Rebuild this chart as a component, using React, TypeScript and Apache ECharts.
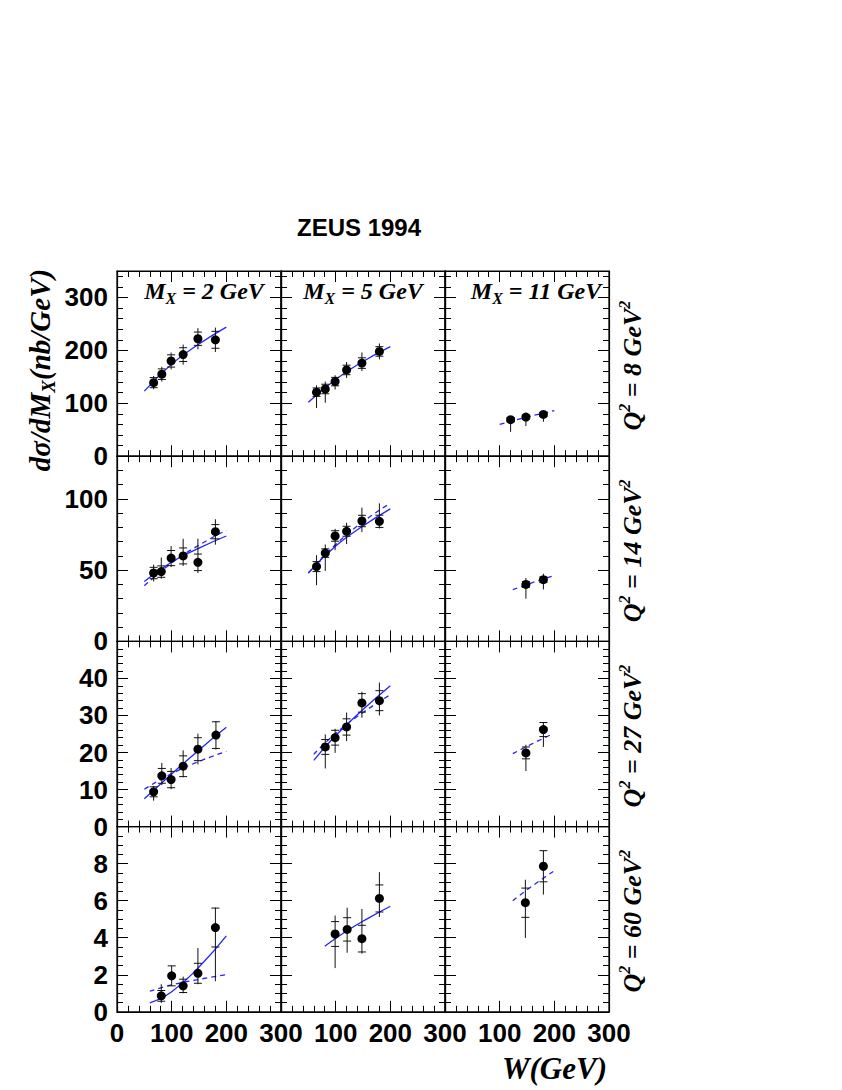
import React, { useEffect, useRef } from "react";
import * as echarts from "echarts";

// ---- labels ----
const title = "ZEUS 1994";
const mxValues = ["2", "5", "11"];
const q2Values = ["8", "14", "27", "60"];

// ---- axis ranges per row (Q² rows) ----
const xMin = 0;
const xMax = 300;
const xMajor = 100;
const yMaxByRow = [350, 130, 50, 10];
const yMajorByRow = [100, 50, 10, 2];
const yMinorByRow = [20, 10, 2, 0.5];

// ---- data points: [W, value, stat err, total err up, total err down] ----
const pts_q8_m2 = [[67, 139, 9.5, 12.6, 12.6], [82, 155, 10, 14, 14], [99, 180, 11.6, 16, 16], [121, 192, 13, 19, 19], [148, 222, 12.6, 20, 20], [180, 220, 16, 23, 23]];
const pts_q8_m5 = [[65, 121, 8, 13, 30], [81, 127, 9, 14, 26], [99, 141, 8, 12, 15], [120, 163, 9, 15, 15], [148, 176, 10, 20, 15], [180, 198, 9, 15, 15]];
const pts_q8_m11 = [[120, 69, 4, 5, 23], [148, 74, 4, 5, 17], [180, 79, 4, 5, 14]];

const pts_q14_m2 = [[67, 48, 4, 5.9, 5.9], [81, 49, 4, 9.8, 5], [99, 58.5, 5.3, 8.4, 6.3], [121, 60, 5.6, 12, 7], [148, 55.5, 5.8, 16.6, 7.5], [180, 77, 5, 8.7, 9.1]];
const pts_q14_m5 = [[65, 52.5, 3.5, 8, 13], [81, 62, 3, 6, 12.5], [99, 74, 3.7, 5, 10], [120, 77.3, 3.5, 6, 9], [148, 84.5, 4, 9.4, 7.7], [180, 84.3, 4.3, 12.6, 5]];
const pts_q14_m11 = [[148, 40, 2, 4.5, 10], [180, 43.3, 2, 4.2, 6.8]];

const pts_q27_m2 = [[67, 9.4, 1.35, 1.6, 2.4], [82, 13.7, 2, 3.5, 2.5], [99, 12.7, 2.2, 3.1, 2.6], [121, 16.3, 2.8, 4.3, 3], [148, 20.9, 3.1, 4.2, 4.1], [181, 24.7, 3.6, 3.8, 3.9]];
const pts_q27_m5 = [[81, 21.5, 2, 3.4, 5.8], [99, 24, 2, 2.4, 4.1], [120, 26.9, 2.2, 3.9, 3.8], [148, 33.4, 2.5, 3, 4], [180, 34, 2.7, 4.9, 4]];
const pts_q27_m11 = [[148, 19.9, 1.6, 2.2, 4.9], [180, 26.2, 1.9, 2, 4.7]];

const pts_q60_m2 = [[81, 0.86, 0.29, 0.63, 0.38], [100, 1.94, 0.54, 0.54, 0.54], [121, 1.4, 0.36, 0.5, 0.4], [148, 2.08, 0.54, 1.36, 0.59], [180, 4.55, 1.05, 1.08, 2.9]];
const pts_q60_m5 = [[99, 4.2, 0.67, 1, 1.84], [121, 4.45, 0.63, 1.17, 1.26], [148, 3.95, 0.72, 1.6, 0.81], [180, 6.12, 0.73, 1.42, 1.0]];
const pts_q60_m11 = [[147, 5.89, 0.79, 1.24, 1.9], [180, 7.86, 0.84, 0.84, 1.53]];

// ---- fit curves: [W, value] ----
const solid_q8_m2 = [[50, 123], [100, 174], [150, 212], [200, 244]];
const solid_q8_m5 = [[50, 102], [100, 145], [150, 179], [200, 207]];
const dash_q8_m11 = [[100, 60], [150, 74], [200, 86]];

const solid_q14_m2 = [[50, 42], [100, 55.7], [150, 65.5], [200, 74]];
const dash_q14_m2 = [[50, 39], [100, 55], [150, 67.6], [200, 78]];
const solid_q14_m5 = [[50, 48], [100, 67], [150, 81], [200, 93]];
const dash_q14_m5 = [[50, 48], [100, 68], [150, 84], [200, 97]];
const dash_q14_m11 = [[124, 36.3], [160, 41.3], [198, 45.9]];

const solid_q27_m2 = [[50, 7.5], [100, 14.2], [150, 20.7], [200, 26.8]];
const dash_q27_m2 = [[50, 10.1], [100, 14.3], [150, 17.6], [200, 20.3]];
const solid_q27_m5 = [[60, 17.9], [100, 24.6], [150, 31.6], [200, 38]];
const dash_q27_m5 = [[60, 19.5], [100, 25.2], [150, 30.8], [200, 35.6]];
const dash_q27_m11 = [[124, 19.7], [160, 22.4], [198, 25.1]];

const solid_q60_m2 = [[60, 0.48], [100, 1.08], [150, 2.42], [200, 4.1]];
const dash_q60_m2 = [[60, 1.11], [100, 1.45], [150, 1.75], [200, 2.01]];
const solid_q60_m5 = [[80, 3.54], [120, 4.36], [160, 5.06], [200, 5.7]];
const dash_q60_m11 = [[124, 6.0], [160, 6.8], [198, 7.58]];

const panels = [
  { r: 0, c: 0, pts: pts_q8_m2, solid: solid_q8_m2, dash: null },
  { r: 0, c: 1, pts: pts_q8_m5, solid: solid_q8_m5, dash: null },
  { r: 0, c: 2, pts: pts_q8_m11, solid: null, dash: dash_q8_m11 },
  { r: 1, c: 0, pts: pts_q14_m2, solid: solid_q14_m2, dash: dash_q14_m2 },
  { r: 1, c: 1, pts: pts_q14_m5, solid: solid_q14_m5, dash: dash_q14_m5 },
  { r: 1, c: 2, pts: pts_q14_m11, solid: null, dash: dash_q14_m11 },
  { r: 2, c: 0, pts: pts_q27_m2, solid: solid_q27_m2, dash: dash_q27_m2 },
  { r: 2, c: 1, pts: pts_q27_m5, solid: solid_q27_m5, dash: dash_q27_m5 },
  { r: 2, c: 2, pts: pts_q27_m11, solid: null, dash: dash_q27_m11 },
  { r: 3, c: 0, pts: pts_q60_m2, solid: solid_q60_m2, dash: dash_q60_m2 },
  { r: 3, c: 1, pts: pts_q60_m5, solid: solid_q60_m5, dash: null },
  { r: 3, c: 2, pts: pts_q60_m11, solid: null, dash: dash_q60_m11 },
];

// ---- layout ----
const LEFT0 = 117;
const TOP0 = 271;
const PW = 164;
const PH = 185.2;
const SANS = "'Liberation Sans', Arial, Helvetica, sans-serif";
const SERIF = "'Liberation Serif', 'DejaVu Serif', 'Times New Roman', serif";
const FIT_BLUE = "#2323ff";

function buildOption() {
  const grid: any[] = [];
  const xAxis: any[] = [];
  const yAxis: any[] = [];
  const series: any[] = [];
  const tickStyle = { color: "#000", width: 1 };

  panels.forEach((p, g) => {
    const { r, c } = p;
    grid.push({
      left: LEFT0 + c * PW,
      top: TOP0 + r * PH,
      width: PW,
      height: PH,
      show: true,
      borderColor: "#000",
      borderWidth: 1.2,
      backgroundColor: "transparent",
    });
    ["bottom", "top"].forEach((pos) => {
      xAxis.push({
        gridIndex: g,
        type: "value",
        position: pos,
        min: xMin,
        max: xMax,
        interval: xMajor,
        axisLine: { show: true, onZero: false, lineStyle: { color: "#000", width: 1.2 } },
        axisTick: { show: true, inside: true, length: 11, lineStyle: tickStyle },
        minorTick: { show: true, splitNumber: 5, length: 6, lineStyle: tickStyle },
        splitLine: { show: false },
        axisLabel: {
          show: pos === "bottom" && r === 3,
          showMinLabel: c === 0,
          showMaxLabel: true,
          margin: 8,
          color: "#000",
          fontWeight: "bold",
          fontSize: 26,
          fontFamily: SANS,
        },
      });
    });
    ["left", "right"].forEach((pos) => {
      [yMajorByRow[r], yMinorByRow[r]].forEach((iv, k) => {
        yAxis.push({
          gridIndex: g,
          type: "value",
          position: pos,
          min: 0,
          max: yMaxByRow[r],
          interval: iv,
          axisLine: { show: k === 0, onZero: false, lineStyle: { color: "#000", width: 1.2 } },
          axisTick: { show: true, inside: true, length: k === 0 ? 11 : 6, lineStyle: tickStyle },
          splitLine: { show: false },
          axisLabel: {
            show: pos === "left" && k === 0 && c === 0,
            showMaxLabel: false,
            showMinLabel: true,
            margin: 9,
            color: "#000",
            fontWeight: "bold",
            fontSize: 26,
            fontFamily: SANS,
          },
        });
      });
    });

    const xi = 2 * g;
    const yi = 4 * g;
    if (p.solid) {
      series.push({
        type: "line",
        xAxisIndex: xi,
        yAxisIndex: yi,
        data: p.solid,
        smooth: true,
        showSymbol: false,
        symbol: "none",
        lineStyle: { color: FIT_BLUE, width: 1.3 },
        z: 3,
      });
    }
    if (p.dash) {
      series.push({
        type: "line",
        xAxisIndex: xi,
        yAxisIndex: yi,
        data: p.dash,
        smooth: true,
        showSymbol: false,
        symbol: "none",
        lineStyle: { color: FIT_BLUE, width: 1.3, type: [5, 4] },
        z: 3,
      });
    }
    series.push({
      type: "custom",
      xAxisIndex: xi,
      yAxisIndex: yi,
      data: p.pts,
      encode: { x: 0, y: 1 },
      z: 4,
      renderItem: (params: any, api: any) => {
        const w = api.value(0);
        const v = api.value(1);
        const st = api.value(2);
        const up = api.value(3);
        const dn = api.value(4);
        const pT = api.coord([w, v + up]);
        const pB = api.coord([w, v - dn]);
        const s1 = api.coord([w, v + st]);
        const s2 = api.coord([w, v - st]);
        const style = { stroke: "#111", lineWidth: 1 };
        return {
          type: "group",
          children: [
            { type: "line", shape: { x1: pT[0], y1: pT[1], x2: pB[0], y2: pB[1] }, style },
            { type: "line", shape: { x1: s1[0] - 4, y1: s1[1], x2: s1[0] + 4, y2: s1[1] }, style },
            { type: "line", shape: { x1: s2[0] - 4, y1: s2[1], x2: s2[0] + 4, y2: s2[1] }, style },
          ],
        };
      },
    });
    series.push({
      type: "scatter",
      xAxisIndex: xi,
      yAxisIndex: yi,
      data: p.pts.map((d) => [d[0], d[1]]),
      symbol: "circle",
      symbolSize: 9,
      itemStyle: { color: "#000", opacity: 1 },
      z: 5,
    });
  });

  const mxCenters = [204, 363, 536];
  const serifBI = { fontWeight: "bold", fontStyle: "italic", fontFamily: SERIF, fill: "#000" };
  const graphic: any[] = [
    {
      type: "text",
      x: 359,
      y: 227,
      style: {
        text: title,
        fontSize: 24,
        fontWeight: "bold",
        fontFamily: SANS,
        fill: "#000",
        align: "center",
        verticalAlign: "middle",
      },
    },
    {
      type: "text",
      x: 40,
      y: 370,
      rotation: Math.PI / 2,
      style: {
        text: "{m|dσ/dM}{s|X}{m|(nb/GeV)}",
        align: "center",
        verticalAlign: "middle",
        fill: "#000",
        rich: {
          m: { ...serifBI, fontSize: 29, lineHeight: 36 },
          s: { ...serifBI, fontSize: 19, lineHeight: 16, verticalAlign: "bottom" },
        },
      },
    },
    {
      type: "text",
      x: 607,
      y: 1068,
      style: {
        text: "W(GeV)",
        ...serifBI,
        fontSize: 31,
        align: "right",
        verticalAlign: "middle",
      },
    },
  ];
  mxValues.forEach((m, c) => {
    graphic.push({
      type: "text",
      x: mxCenters[c],
      y: 291,
      style: {
        text: `{m|M}{s|X}{m| = ${m} GeV}`,
        align: "center",
        verticalAlign: "middle",
        fill: "#000",
        rich: {
          m: { ...serifBI, fontSize: 24, lineHeight: 30 },
          s: { ...serifBI, fontSize: 16, lineHeight: 12, verticalAlign: "bottom" },
        },
      },
    });
  });
  q2Values.forEach((q, r) => {
    graphic.push({
      type: "text",
      x: 632,
      y: TOP0 + r * PH + PH / 2 + 2,
      rotation: Math.PI / 2,
      style: {
        text: `{m|Q}{p|2}{m| = ${q} GeV}{p|2}`,
        align: "center",
        verticalAlign: "middle",
        fill: "#000",
        rich: {
          m: { ...serifBI, fontSize: 26, lineHeight: 32 },
          p: { ...serifBI, fontSize: 16, lineHeight: 12, verticalAlign: "top" },
        },
      },
    });
  });

  return {
    animation: false,
    backgroundColor: "#fff",
    grid,
    xAxis,
    yAxis,
    series,
    graphic,
  };
}

export default function App() {
  const ref = useRef<HTMLDivElement>(null);
  useEffect(() => {
    document.body.style.margin = "0";
    if (!ref.current) return;
    const chart = echarts.init(ref.current, null, { renderer: "svg" });
    chart.setOption(buildOption() as any);
    return () => chart.dispose();
  }, []);
  return <div ref={ref} style={{ width: 842, height: 1090 }} />;
}
